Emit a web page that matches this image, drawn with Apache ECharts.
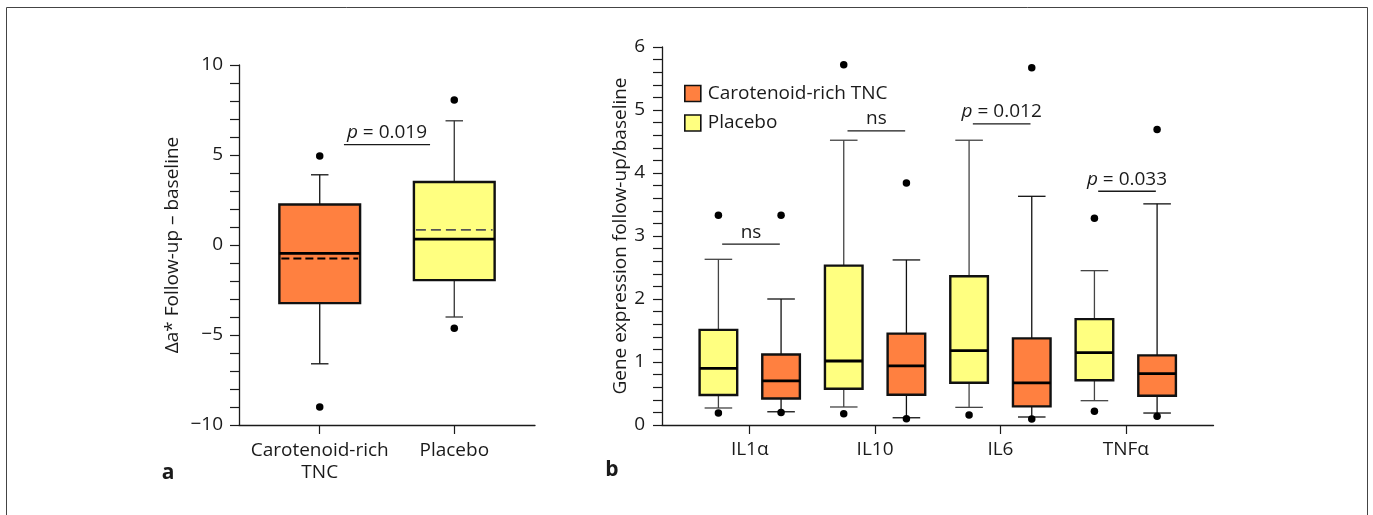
<!DOCTYPE html>
<html>
<head>
<meta charset="utf-8">
<title>Box plots</title>
<script src="https://cdn.jsdelivr.net/npm/echarts@6/dist/echarts.min.js"></script>
<style>
  html, body { margin: 0; padding: 0; background: #fff; }
  #chart { width: 1373px; height: 515px; }
</style>
</head>
<body>
<div id="chart"></div>
<script>
// panel a : delta a*
const groupsA = ['Carotenoid-rich\nTNC', 'Placebo'];
// [lower whisker, Q1, median, Q3, upper whisker]
const boxA = [[-6.6, -3.23, -0.47, 2.25, 3.9], [-4.0, -1.95, 0.33, 3.5, 6.9]];
const meanA = [-0.75, 0.84];
const outA = [[4.95, -9.0], [8.05, -4.62]];
const sigTextA = ['p = 0.019'];
const sigYA = [5.58];

// panel b : gene expression
const genes = ['IL1α', 'IL10', 'IL6', 'TNFα'];
const tncBox = [[0.21, 0.42, 0.70, 1.12, 2.0], [0.115, 0.48, 0.94, 1.45, 2.62], [0.127, 0.295, 0.67, 1.375, 3.63], [0.19, 0.465, 0.815, 1.105, 3.51]];
const placeboBox = [[0.27, 0.476, 0.90, 1.51, 2.63], [0.286, 0.576, 1.016, 2.53, 4.52], [0.28, 0.67, 1.18, 2.36, 4.52], [0.386, 0.71, 1.15, 1.68, 2.45]];
const tncOut = [[0.20, 3.33], [0.10, 3.84], [0.095, 5.67], [0.14, 4.69]];
const placeboOut = [[0.19, 3.33], [0.18, 5.72], [0.16], [0.22, 3.28]];
const sigText = ['ns', 'ns', 'p = 0.012', 'p = 0.033'];
const sigY = [2.87, 4.67, 4.78, 3.71];

const ORANGE = '#FF8040';
const YELLOW = '#FFFF80';
const FONT = '"Open Sans", "Noto Sans", sans-serif';
const INK = '#1a1a1a';

const chart = echarts.init(document.getElementById('chart'));

// box + whiskers drawn through the axes of the series
function boxRender(half, cap, ink, fill, dash) {
    return function (params, api) {
        const x = api.value(0);
        const lo = api.coord([x, api.value(1)]);
        const q1 = api.coord([x, api.value(2)]);
        const md = api.coord([x, api.value(3)]);
        const q3 = api.coord([x, api.value(4)]);
        const hi = api.coord([x, api.value(5)]);
        const left = api.coord([x - half, api.value(3)])[0];
        const right = api.coord([x + half, api.value(3)])[0];
        const cl = api.coord([x - cap, api.value(3)])[0];
        const cr = api.coord([x + cap, api.value(3)])[0];
        const thin = {stroke: ink, lineWidth: 1.3};
        const kids = [
            {type: 'line', shape: {x1: lo[0], y1: lo[1], x2: q1[0], y2: q1[1]}, style: thin},
            {type: 'line', shape: {x1: hi[0], y1: hi[1], x2: q3[0], y2: q3[1]}, style: thin},
            {type: 'line', shape: {x1: cl, y1: lo[1], x2: cr, y2: lo[1]}, style: thin},
            {type: 'line', shape: {x1: cl, y1: hi[1], x2: cr, y2: hi[1]}, style: thin},
            {type: 'rect', shape: {x: left, y: q3[1], width: right - left, height: q1[1] - q3[1]},
                style: {fill: fill, stroke: '#111', lineWidth: 2.4}},
            {type: 'line', shape: {x1: left, y1: md[1], x2: right, y2: md[1]}, style: {stroke: '#000', lineWidth: 2.8}}
        ];
        const mean = api.value(6);
        if (!isNaN(mean)) {
            const mn = api.coord([x, mean]);
            kids.push({type: 'line', shape: {x1: left + 2, y1: mn[1], x2: right - 2, y2: mn[1]},
                style: {stroke: dash.color, lineWidth: dash.width, lineDash: dash.pattern}});
        }
        return {type: 'group', children: kids};
    };
}

function sigRender(params, api) {
    const a = api.coord([api.value(0), api.value(2)]);
    const b = api.coord([api.value(1), api.value(2)]);
    const label = api.value(3);
    const txt = label.indexOf('p') === 0 ? '{it|p}' + label.slice(1) : label;
    return {type: 'group', children: [
        {type: 'line', shape: {x1: a[0], y1: a[1], x2: b[0], y2: b[1]}, style: {stroke: INK, lineWidth: 1.3}},
        {type: 'text', style: {
            text: txt, x: (a[0] + b[0]) / 2, y: a[1] - 12,
            align: 'center', verticalAlign: 'middle',
            fontSize: 19, fontFamily: FONT, fill: INK,
            rich: {it: {fontStyle: 'italic', fontSize: 19, fontFamily: FONT, fill: INK}}
        }}
    ]};
}

const dataA = groupsA.map((g, i) => [i + 1].concat(boxA[i], [meanA[i]]));
const outPtsA = [];
outA.forEach((arr, i) => arr.forEach(v => outPtsA.push([i + 1, v])));

const tncData = genes.map((g, i) => [i + 1.25].concat(tncBox[i]));
const plcData = genes.map((g, i) => [i + 0.75].concat(placeboBox[i]));
const outPtsB = [];
tncOut.forEach((arr, i) => arr.forEach(v => outPtsB.push([i + 1.25, v])));
placeboOut.forEach((arr, i) => arr.forEach(v => outPtsB.push([i + 0.75, v])));

const sigDataA = sigTextA.map((t, i) => [1.18, 1.82, sigYA[i], t]);
const sigDataB = sigText.map((t, i) => [i + 0.78, i + 1.24, sigY[i], t]);

const axisLine = {show: true, onZero: false, lineStyle: {color: INK, width: 1.3}};
const tick = {show: true, length: 9, lineStyle: {color: INK, width: 1.2}};
const labelStyle = {color: INK, fontSize: 19, fontFamily: FONT};
const minus = v => (v < 0 ? '\u2212' + Math.abs(v) : String(v));

chart.setOption({
    animation: false,
    textStyle: {fontFamily: FONT},
    grid: [
        {left: 239, top: 65, width: 296, height: 360},
        {left: 662, top: 47, width: 551.5, height: 378}
    ],
    legend: {
        orient: 'vertical', left: 679, top: 79, itemWidth: 16, itemHeight: 16, itemGap: 10.5,
        icon: 'rect', selectedMode: false,
        textStyle: {color: INK, fontSize: 19, fontFamily: FONT, padding: [0, 0, 0, 2]},
        data: [
            {name: 'Carotenoid-rich TNC', itemStyle: {color: ORANGE, borderColor: '#111', borderWidth: 1.6}},
            {name: 'Placebo', itemStyle: {color: YELLOW, borderColor: '#111', borderWidth: 1.6}}
        ]
    },
    xAxis: [
        {gridIndex: 0, type: 'value', min: 0.4, max: 2.6, splitLine: {show: false}, axisLine: axisLine,
            axisTick: Object.assign({customValues: [1, 2]}, tick),
            axisLabel: Object.assign({customValues: [1, 2], margin: 15, lineHeight: 22,
                formatter: v => groupsA[Math.round(v) - 1]}, labelStyle)},
        {gridIndex: 1, type: 'value', min: 0.3, max: 4.7, splitLine: {show: false}, axisLine: axisLine,
            axisTick: Object.assign({customValues: [1, 2, 3, 4]}, tick),
            axisLabel: Object.assign({customValues: [1, 2, 3, 4], margin: 15,
                formatter: v => genes[Math.round(v) - 1]}, labelStyle)}
    ],
    yAxis: [
        {gridIndex: 0, type: 'value', min: -10, max: 10, interval: 5, splitLine: {show: false},
            axisLine: axisLine, axisTick: tick,
            minorTick: {show: true, splitNumber: 5, length: 9, lineStyle: {color: INK, width: 1.2}},
            axisLabel: Object.assign({margin: 16, formatter: minus}, labelStyle),
            name: 'Δa* Follow-up – baseline', nameLocation: 'middle', nameGap: 57,
            nameTextStyle: labelStyle},
        {gridIndex: 1, type: 'value', min: 0, max: 6, interval: 1, splitLine: {show: false},
            axisLine: axisLine, axisTick: tick,
            minorTick: {show: true, splitNumber: 5, length: 9, lineStyle: {color: INK, width: 1.2}},
            axisLabel: Object.assign({margin: 17}, labelStyle),
            name: 'Gene expression follow-up/baseline', nameLocation: 'middle', nameGap: 32,
            nameTextStyle: labelStyle}
    ],
    series: [
        {type: 'custom', name: 'a-boxes', xAxisIndex: 0, yAxisIndex: 0, data: dataA,
            encode: {x: 0, y: [1, 2, 3, 4, 5]},
            renderItem: function (params, api) {
                const i = params.dataIndex;
                const dash = i === 0 ? {color: '#000', width: 2.2, pattern: [8, 4]} : {color: '#555', width: 1.8, pattern: [10, 5]};
                return boxRender(0.3, 0.065, i === 0 ? '#111' : '#333', i === 0 ? ORANGE : YELLOW, dash)(params, api);
            }},
        {type: 'scatter', xAxisIndex: 0, yAxisIndex: 0, data: outPtsA, symbol: 'circle', symbolSize: 7.5,
            itemStyle: {color: '#000', opacity: 1}, z: 5},
        {type: 'custom', xAxisIndex: 0, yAxisIndex: 0, data: sigDataA, renderItem: sigRender,
            encode: {x: [0, 1], y: 2}},

        {type: 'custom', name: 'Placebo', xAxisIndex: 1, yAxisIndex: 1, data: plcData,
            itemStyle: {color: YELLOW},
            encode: {x: 0, y: [1, 2, 3, 4, 5]},
            renderItem: boxRender(0.15, 0.11, '#444', YELLOW, null)},
        {type: 'custom', name: 'Carotenoid-rich TNC', xAxisIndex: 1, yAxisIndex: 1, data: tncData,
            itemStyle: {color: ORANGE},
            encode: {x: 0, y: [1, 2, 3, 4, 5]},
            renderItem: boxRender(0.15, 0.11, '#111', ORANGE, null)},
        {type: 'scatter', xAxisIndex: 1, yAxisIndex: 1, data: outPtsB, symbol: 'circle', symbolSize: 7.5,
            itemStyle: {color: '#000', opacity: 1}, z: 5},
        {type: 'custom', xAxisIndex: 1, yAxisIndex: 1, data: sigDataB, renderItem: sigRender,
            encode: {x: [0, 1], y: 2}}
    ],
    graphic: [
        {type: 'polyline', silent: true,
            shape: {points: [[6.5, 600], [6.5, 7.5], [1367.5, 7.5], [1367.5, 600]]},
            style: {fill: 'none', stroke: '#444', lineWidth: 1}},
        {type: 'text', silent: true, style: {text: 'a', x: 168, y: 473, textAlign: 'center', textVerticalAlign: 'middle',
            font: 'bold 21px ' + FONT, fill: INK}},
        {type: 'text', silent: true, style: {text: 'b', x: 612, y: 470, textAlign: 'center', textVerticalAlign: 'middle',
            font: 'bold 21px ' + FONT, fill: INK}}
    ]
});
</script>
</body>
</html>
